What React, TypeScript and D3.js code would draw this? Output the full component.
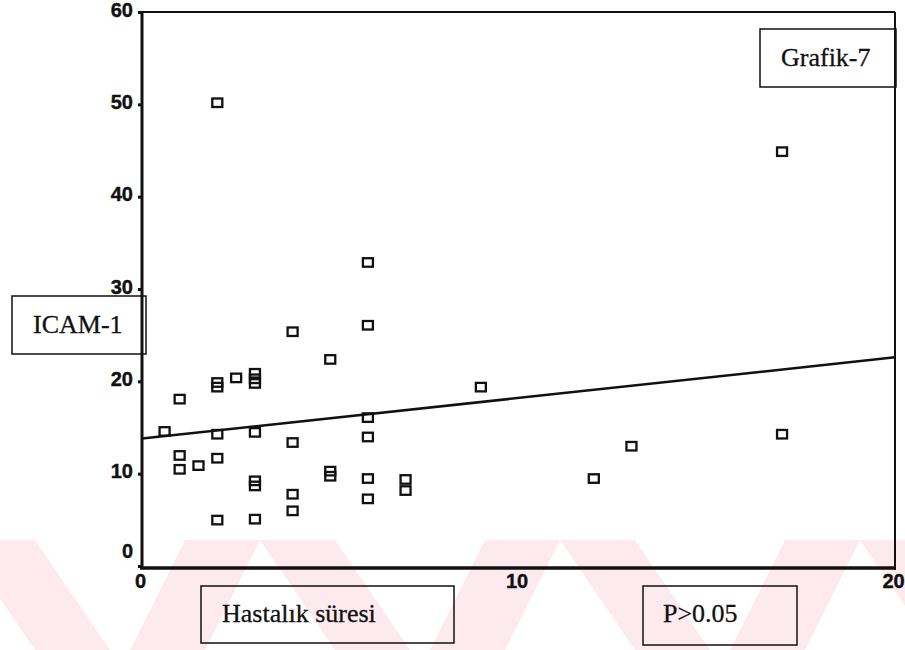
import React, { useEffect, useRef } from 'react'
import * as d3 from 'd3'

// Hastalık süresi vs ICAM-1
const hastalikSuresi = [2, 17, 6, 6, 4, 5, 3, 3, 3, 2.5, 2, 2, 1, 9, 6, 0.6, 2, 3, 4, 6, 17, 13, 1, 1, 1.5, 2, 3, 3, 5, 5, 6, 7, 7, 12, 4, 6, 4, 2, 3]
const icam1 = [50.2, 44.9, 32.9, 26.1, 25.4, 22.4, 20.9, 20.3, 19.8, 20.4, 19.9, 19.4, 18.1, 19.4, 16.1, 14.6, 14.3, 14.5, 13.4, 14.0, 14.3, 13.0, 12.0, 10.5, 10.9, 11.7, 9.25, 8.7, 10.3, 9.75, 9.5, 9.4, 8.2, 9.5, 7.8, 7.3, 6.0, 5.0, 5.1]

// regression line ends
const fitX = [0, 20]
const fitY = [13.8, 22.6]

const xTicks = [0, 10, 20]
const yTicks = [0, 10, 20, 30, 40, 50, 60]

const labels = [
  { text: 'ICAM-1', box: [12, 296, 134, 58], at: [33, 333] },
  { text: 'Grafik-7', box: [760, 29, 136, 58], at: [781, 66] },
  { text: 'Hastalık süresi', box: [201, 586, 253, 57], at: [222, 622] },
  { text: 'P>0.05', box: [643, 586, 154, 59], at: [663, 622] },
]

function drawChart(node: SVGSVGElement) {
  const svg = d3.select(node)
  svg.selectAll('*').remove()

  const x = d3.scaleLinear().domain([0, 20]).range([142, 895])
  const y = d3.scaleLinear().domain([0, 60]).range([566, 12])

  // faint pink watermark stripes along the bottom of the scan
  const wm = svg.append('g').attr('fill', '#fdeaee')
  for (const x0 of [-40, 260, 560, 860]) {
    wm.append('polygon').attr('points', `${x0},540 ${x0 + 75},540 ${x0 + 150},650 ${x0 + 75},650`)
    wm.append('polygon').attr('points', `${x0 + 170},650 ${x0 + 245},650 ${x0 + 300},540 ${x0 + 225},540`)
  }

  // frame
  svg.append('line')
    .attr('x1', x(0)).attr('x2', x(20)).attr('y1', y(60)).attr('y2', y(60))
    .attr('stroke', '#111').attr('stroke-width', 2)
  svg.append('line')
    .attr('x1', x(20)).attr('x2', x(20)).attr('y1', y(60)).attr('y2', 570)
    .attr('stroke', '#111').attr('stroke-width', 2)
  svg.append('line')
    .attr('x1', x(0)).attr('x2', x(0)).attr('y1', y(60) - 1).attr('y2', 569)
    .attr('stroke', '#111').attr('stroke-width', 3)
  svg.append('line')
    .attr('x1', x(0) - 2).attr('x2', x(20)).attr('y1', 568).attr('y2', 568)
    .attr('stroke', '#111').attr('stroke-width', 3.5)

  // y axis
  const yAxis = svg.append('g')
    .attr('transform', `translate(${x(0)},0)`)
    .call(d3.axisLeft(y).tickValues(yTicks).tickSize(4).tickPadding(5).tickFormat(d3.format('d')))
  yAxis.select('.domain').remove()
  yAxis.selectAll('.tick line').attr('stroke', '#111').attr('stroke-width', 3)
  yAxis.selectAll('.tick text')
    .attr('fill', '#111')
    .attr('stroke', '#111')
    .attr('stroke-width', 0.4)
    .attr('font-family', '"Liberation Sans", Arial, sans-serif')
    .attr('font-weight', 'bold')
    .attr('font-size', 20)
    .attr('dy', (d: any) => (d === 0 ? '-0.42em' : '0.2em'))

  // x axis
  const xAxis = svg.append('g')
    .attr('transform', 'translate(0,568)')
    .call(d3.axisBottom(x).tickValues(xTicks).tickSize(0).tickPadding(6).tickFormat(d3.format('d')))
  xAxis.select('.domain').remove()
  xAxis.selectAll('.tick text')
    .attr('fill', '#111')
    .attr('stroke', '#111')
    .attr('stroke-width', 0.4)
    .attr('font-family', '"Liberation Sans", Arial, sans-serif')
    .attr('font-weight', 'bold')
    .attr('font-size', 20)
    .attr('dx', '-0.1em')

  // regression line
  const line = d3.line<number>().x((d, i) => x(fitX[i])).y((d) => y(d))
  svg.append('path')
    .datum(fitY)
    .attr('d', line)
    .attr('fill', 'none')
    .attr('stroke', '#111')
    .attr('stroke-width', 2.5)

  // open square markers
  svg.append('g')
    .selectAll('rect')
    .data(icam1)
    .enter()
    .append('rect')
    .attr('x', (d, i) => x(hastalikSuresi[i]) - 5)
    .attr('y', (d) => y(d) - 4)
    .attr('width', 10)
    .attr('height', 8.5)
    .attr('fill', 'none')
    .attr('stroke', '#111')
    .attr('stroke-width', 2.3)

  // boxed captions
  const cap = svg.append('g').selectAll('g').data(labels).enter().append('g')
  cap.append('rect')
    .attr('x', (d) => d.box[0]).attr('y', (d) => d.box[1])
    .attr('width', (d) => d.box[2]).attr('height', (d) => d.box[3])
    .attr('fill', 'none').attr('stroke', '#111').attr('stroke-width', 1.5)
  cap.append('text')
    .attr('x', (d) => d.at[0]).attr('y', (d) => d.at[1])
    .attr('font-family', '"Liberation Serif", "Times New Roman", serif')
    .attr('font-size', 26)
    .attr('fill', '#111')
    .attr('stroke', '#111')
    .attr('stroke-width', 0.3)
    .text((d) => d.text)
}

export default function App() {
  const ref = useRef<SVGSVGElement>(null)
  useEffect(() => {
    if (ref.current) drawChart(ref.current)
  }, [])
  return (
    <svg
      ref={ref}
      width={905}
      height={650}
      style={{ position: 'absolute', left: 0, top: 0, background: '#fff' }}
    />
  )
}
